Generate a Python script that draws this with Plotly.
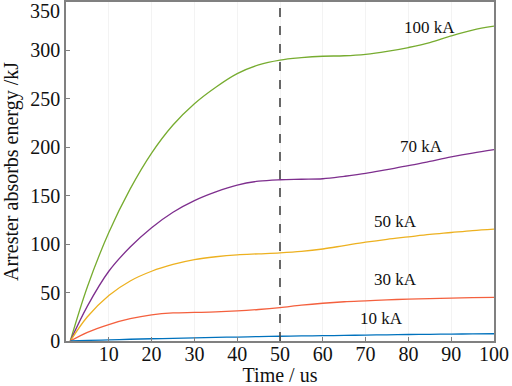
import plotly.graph_objects as go

time_us = [1, 5, 10, 15, 20, 25, 30, 35, 40, 45, 50, 55, 60, 65, 70, 75, 80, 85, 90, 95, 100]
e_100ka = [0, 56, 112, 157, 194, 223, 245, 262, 276, 285, 290, 292.5, 294, 294.5, 296, 299, 303, 308, 315, 321, 325]
e_70ka = [0, 36, 72, 97, 117, 133, 145, 154, 161, 165, 166.5, 167, 167.5, 170, 173, 177, 181, 185.5, 190, 194, 197.5]
e_50ka = [0, 25, 47, 62, 72, 79, 84, 87, 89, 90, 91, 92.5, 95, 98.5, 102, 105, 107.5, 110, 112, 114, 115.5]
e_30ka = [0, 9, 17, 23, 27, 29, 29.5, 30, 31, 32.5, 34.5, 37, 39, 40.5, 41.5, 42.5, 43.2, 43.8, 44.3, 44.7, 45]
e_10ka = [0, 0.6, 1.2, 1.8, 2.3, 2.8, 3.3, 3.7, 4.1, 4.5, 4.9, 5.2, 5.5, 5.8, 6.1, 6.4, 6.7, 6.9, 7.1, 7.3, 7.5]

series_names = ["100 kA", "70 kA", "50 kA", "30 kA", "10 kA"]
series_values = [e_100ka, e_70ka, e_50ka, e_30ka, e_10ka]
series_colors = ["#77AC30", "#7E2F8E", "#EDB120", "#F4603E", "#0072BD"]
label_x = [85, 83, 77, 77, 73.6]
label_y = [324, 201, 123, 63, 23]

x_ticks = [10, 20, 30, 40, 50, 60, 70, 80, 90, 100]
y_ticks = [0, 50, 100, 150, 200, 250, 300]
marker_time = 50

FONT = "Liberation Serif"

fig = go.Figure()
for name, vals, col in zip(series_names, series_values, series_colors):
    fig.add_trace(go.Scatter(x=time_us, y=vals, mode="lines", name=name,
                             line=dict(color=col, width=1.3, shape="spline", smoothing=1.0)))

fig.add_shape(type="line", x0=marker_time, x1=marker_time, y0=0, y1=1, yref="paper",
              line=dict(color="#444444", width=1.6, dash="dash"))

for name, lx, ly in zip(series_names, label_x, label_y):
    fig.add_annotation(x=lx, y=ly, text=name, showarrow=False,
                       font=dict(family=FONT, size=17, color="#111111"))

fig.add_annotation(x=0, xref="paper", y=350, text="350", showarrow=False,
                   xanchor="right", yanchor="middle", xshift=-4, yshift=-9,
                   font=dict(family=FONT, size=20, color="#111111"))

fig.update_layout(
    width=512, height=386,
    margin=dict(l=66, r=18, t=2, b=45),
    paper_bgcolor="white", plot_bgcolor="white",
    showlegend=False,
    font=dict(family=FONT, size=20, color="#111111"),
)
fig.update_xaxes(range=[0, 100], tickvals=x_ticks, ticks="inside", ticklen=4,
                 tickcolor="#808080", showline=True, linecolor="#808080", linewidth=1.5,
                 mirror=True, showgrid=True, gridcolor="#f3f3f3", zeroline=False,
                 automargin=False, ticklabelstandoff=-6,
                 title=dict(text="Time / us", standoff=0, font=dict(size=20)),
                 tickfont=dict(size=20))
fig.update_yaxes(range=[0, 350], tickvals=y_ticks, ticks="inside", ticklen=4,
                 tickcolor="#808080", showline=True, linecolor="#808080", linewidth=1.5,
                 mirror=True, showgrid=False, zeroline=False, automargin=False,
                 title=dict(text="Arrester absorbs energy /kJ", standoff=8, font=dict(size=20)),
                 tickfont=dict(size=20))

fig.write_html("out.html", config={"displayModeBar": False},
               post_script="document.body.style.margin='0';document.body.style.padding='0';")
